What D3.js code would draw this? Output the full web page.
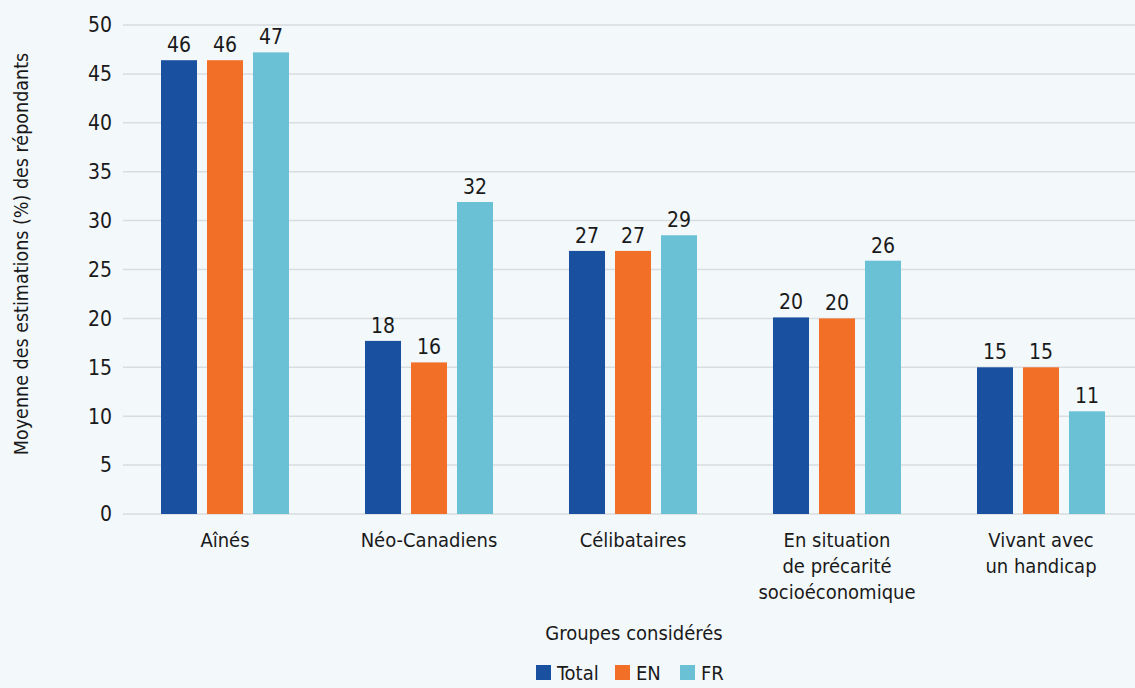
<!DOCTYPE html>
<html>
<head>
<meta charset="utf-8">
<script src="https://cdn.jsdelivr.net/npm/d3@7"></script>
<style>
  html, body { margin: 0; padding: 0; background: #F3F8FB; }
  svg { display: block; }
  text { font-family: "DejaVu Sans Condensed", "Liberation Sans Narrow", sans-serif; fill: #1a1a1a; }
</style>
</head>
<body>
<div id="viscontainer"></div>
<script>
const categories = [
  ["Aînés"],
  ["Néo-Canadiens"],
  ["Célibataires"],
  ["En situation", "de précarité", "socioéconomique"],
  ["Vivant avec", "un handicap"]
];
const seriesNames = ["Total", "EN", "FR"];
const totalValues = [46.4, 17.7, 26.9, 20.1, 15.0];
const enValues = [46.4, 15.5, 26.9, 20.0, 15.0];
const frValues = [47.2, 31.9, 28.5, 25.9, 10.5];
const yTicks = [0, 5, 10, 15, 20, 25, 30, 35, 40, 45, 50];
const colors = ["#1A50A0", "#F26F27", "#6AC1D5"];

const width = 1135;
const height = 688;
const margin = { top: 25, right: -8, bottom: 174, left: 123 };

const svg = d3.select("#viscontainer")
  .append("svg")
  .attr("width", width)
  .attr("height", height);

const series = [totalValues, enValues, frValues];
const labels = categories.map(c => c.join(" "));

const x = d3.scaleBand()
  .domain(labels)
  .range([margin.left, width - margin.right])
  .paddingInner(0)
  .paddingOuter(0);

const x1 = d3.scaleBand()
  .domain(seriesNames)
  .range([0, x.bandwidth()])
  .paddingInner(0.217)
  .paddingOuter(0.826);

const y = d3.scaleLinear()
  .domain([0, 50])
  .range([height - margin.bottom, margin.top]);

// gridlines
svg.append("g")
  .selectAll("line")
  .data(yTicks)
  .join("line")
  .attr("x1", margin.left)
  .attr("x2", width)
  .attr("y1", d => y(d))
  .attr("y2", d => y(d))
  .attr("stroke", "#DADDDF")
  .attr("stroke-width", 1.5);

// y tick labels
svg.append("g")
  .selectAll("text")
  .data(yTicks)
  .join("text")
  .attr("x", 112)
  .attr("y", d => y(d))
  .attr("dy", "0.35em")
  .attr("text-anchor", "end")
  .attr("font-size", 21)
  .text(d => d);

// bars
const groups = svg.append("g")
  .selectAll("g")
  .data(labels)
  .join("g")
  .attr("transform", d => `translate(${x(d)},0)`);

groups.selectAll("rect")
  .data((d, i) => seriesNames.map((s, j) => ({ s, v: series[j][i], j })))
  .join("rect")
  .attr("x", d => x1(d.s))
  .attr("width", x1.bandwidth())
  .attr("y", d => y(d.v))
  .attr("height", d => y(0) - y(d.v))
  .attr("fill", d => colors[d.j]);

groups.selectAll("text.val")
  .data((d, i) => seriesNames.map((s, j) => ({ s, v: series[j][i], j })))
  .join("text")
  .attr("class", "val")
  .attr("x", d => x1(d.s) + x1.bandwidth() / 2)
  .attr("y", d => y(d.v) - 8)
  .attr("text-anchor", "middle")
  .attr("font-size", 21)
  .text(d => Math.round(d.v));

// category labels
const catLabels = svg.append("g")
  .selectAll("text")
  .data(categories)
  .join("text")
  .attr("x", (d, i) => x(labels[i]) + x.bandwidth() / 2)
  .attr("y", 547)
  .attr("text-anchor", "middle")
  .attr("font-size", 20);

catLabels.selectAll("tspan")
  .data(d => d)
  .join("tspan")
  .attr("x", function() { return this.parentNode.getAttribute("x"); })
  .attr("dy", (d, i) => i === 0 ? 0 : 26)
  .text(d => d);

// axis titles
svg.append("text")
  .attr("x", 634)
  .attr("y", 640)
  .attr("text-anchor", "middle")
  .attr("font-size", 20)
  .text("Groupes considérés");

svg.append("text")
  .attr("transform", "translate(28,254) rotate(-90)")
  .attr("text-anchor", "middle")
  .attr("font-size", 19.5)
  .text("Moyenne des estimations (%) des répondants");

// legend
const legendX = [536, 615, 680];
const legend = svg.append("g")
  .selectAll("g")
  .data(seriesNames)
  .join("g")
  .attr("transform", (d, i) => `translate(${legendX[i]},665)`);

legend.append("rect")
  .attr("width", 15)
  .attr("height", 15)
  .attr("fill", (d, i) => colors[i]);

legend.append("text")
  .attr("x", 21)
  .attr("y", 15)
  .attr("font-size", 20)
  .text(d => d);
</script>
</body>
</html>
